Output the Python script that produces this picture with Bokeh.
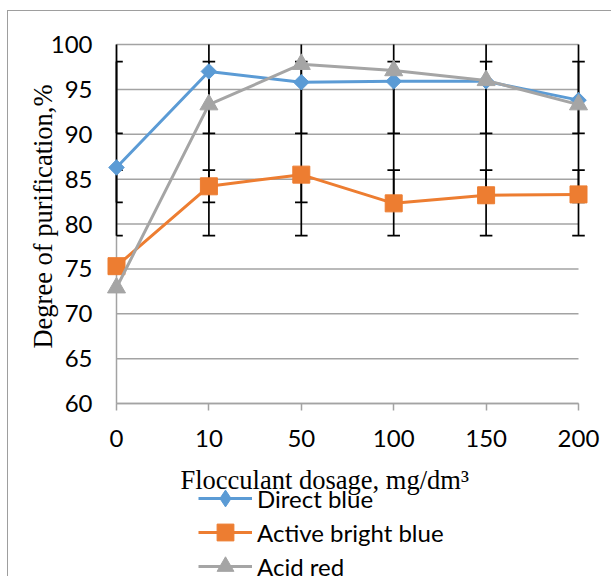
import numpy as np
from bokeh.plotting import figure
from bokeh.models import Range1d, FixedTicker, Legend, LegendItem, Label
from bokeh.embed import file_html
from bokeh.resources import INLINE

# ---- data ----
dosage_labels = ["0", "10", "50", "100", "150", "200"]
x_pos = [0, 1, 2, 3, 4, 5]
y_ticks = [60, 65, 70, 75, 80, 85, 90, 95, 100]

direct_blue = [86.3, 97.0, 95.8, 95.9, 95.9, 93.8]
active_bright_blue = [75.3, 84.2, 85.5, 82.3, 83.2, 83.3]
acid_red = [72.9, 93.3, 97.8, 97.1, 96.0, 93.3]

# error bar extents as drawn (same at every dosage, per series; acid red is cut at 100)
direct_blue_err = (90.1, 98.1)
active_bright_blue_err = (78.7, 86.0)
acid_red_err = (82.4, 100.0)

series_names = ["Direct blue", "Active bright blue", "Acid red"]
series_values = [direct_blue, active_bright_blue, acid_red]
series_errs = [direct_blue_err, active_bright_blue_err, acid_red_err]
series_colors = ["#5B9BD5", "#ED7D31", "#A5A5A5"]

GRID = "#a3a3a3"
SANS = "Lato"
SERIF = "Liberation Serif"

W, H = 604, 566
# plot area: x=0 at px 108, x=5 at px 570; y=100 at px 33, y=60 at px 392
px_x = (570 - 108) / 5.0
px_y = (392 - 33) / 40.0
x_range = Range1d(-108 / px_x, 5 + (W - 570) / px_x)
y_range = Range1d(60 - (H - 392) / px_y, 100 + 33 / px_y)

p = figure(width=W, height=H, output_backend="svg", toolbar_location=None,
           x_range=x_range, y_range=y_range,
           min_border_left=0, min_border_right=0, min_border_top=0,
           min_border_bottom=0,
           styles={"margin-left": "7px", "margin-top": "10px",
                   "border-left": "1px solid #9e9e9e",
                   "border-top": "1px solid #9e9e9e"})
p.outline_line_color = None
p.xgrid.visible = False
p.ygrid.visible = False

# horizontal gridlines between x=0 and x=5, and the value axis line at x=0
p.segment(x0=[x_pos[0]] * len(y_ticks), x1=[x_pos[-1]] * len(y_ticks),
          y0=y_ticks, y1=y_ticks, line_color=GRID, line_width=1.5)
p.segment(x0=[x_pos[0]], x1=[x_pos[0]], y0=[y_ticks[0]], y1=[y_ticks[-1]],
          line_color=GRID, line_width=1.5)

# error bars
cap = 0.068
xs = np.array(x_pos, dtype=float)
for lo, hi in series_errs:
    p.segment(x0=xs, x1=xs, y0=[lo] * len(xs), y1=[hi] * len(xs),
              line_color="black", line_width=1.7)
    for yv in (lo, hi):
        if yv >= y_ticks[-1]:
            continue
        p.segment(x0=np.maximum(xs - cap, 0), x1=xs + cap, y0=[yv] * len(xs),
                  y1=[yv] * len(xs), line_color="black", line_width=1.7)

items = []
for i, (name, vals, col) in enumerate(zip(series_names, series_values, series_colors)):
    ln = p.line(x_pos, vals, line_color=col, line_width=3)
    if i == 0:
        # diamond key for the legend (hidden under the rotated squares in the plot)
        key = p.scatter(x_pos, vals, marker="diamond", size=9,
                        fill_color=col, line_color=col)
        p.scatter(x_pos, vals, marker="square", size=11, angle=np.pi / 4,
                  fill_color=col, line_color=col)
    elif i == 1:
        key = p.scatter(x_pos, vals, marker="square", size=17,
                        fill_color=col, line_color=col)
    else:
        key = p.scatter(x_pos, vals, marker="triangle", size=18,
                        fill_color=col, line_color=col)
    items.append(LegendItem(label=name, renderers=[ln, key]))

# category axis fixed at y = 60
p.xaxis.fixed_location = y_ticks[0]
p.xaxis.ticker = FixedTicker(ticks=x_pos)
p.xaxis.major_label_overrides = {x: lab for x, lab in zip(x_pos, dosage_labels)}
p.xaxis.bounds = (x_pos[0], x_pos[-1])
p.xaxis.axis_line_color = GRID
p.xaxis.axis_line_width = 1.5
p.xaxis.major_tick_line_color = GRID
p.xaxis.major_tick_line_width = 1.5
p.xaxis.major_tick_out = 7
p.xaxis.major_tick_in = 0
p.xaxis.minor_tick_line_color = None
p.xaxis.major_label_standoff = 19
p.xaxis.major_label_text_font = SANS
p.xaxis.major_label_text_font_size = "24px"
p.xaxis.major_label_text_color = "black"

# value axis fixed at x = 0
p.yaxis.fixed_location = x_pos[0]
p.yaxis.ticker = FixedTicker(ticks=y_ticks)
p.yaxis.bounds = (y_ticks[0], y_ticks[-1])
p.yaxis.axis_line_color = None
p.yaxis.major_tick_line_color = None
p.yaxis.minor_tick_line_color = None
p.yaxis.major_tick_out = 0
p.yaxis.major_tick_in = 0
p.yaxis.major_label_standoff = 24
p.yaxis.major_label_text_font = SANS
p.yaxis.major_label_text_font_size = "24px"
p.yaxis.major_label_text_color = "black"

# axis titles
p.add_layout(Label(x=34, y=H - 205, x_units="screen", y_units="screen",
                   text="Degree of purification,%", angle=np.pi / 2,
                   text_font=SERIF, text_font_size="26.5px", text_color="black",
                   text_align="center", text_baseline="middle"))
p.add_layout(Label(x=172, y=H - 468, x_units="screen", y_units="screen",
                   text="Flocculant dosage, mg/dm\u00b3",
                   text_font=SERIF, text_font_size="26.5px", text_color="black",
                   text_align="left", text_baseline="alphabetic"))

# one single-row legend per series (rows 34 px apart, tall key boxes)
for i, item in enumerate(items):
    lg = Legend(items=[item], location=(190, 58 - 34 * i), orientation="vertical",
                label_text_font=SANS, label_text_font_size="24px",
                label_text_color="black", glyph_width=54, glyph_height=42,
                label_height=34, spacing=0, label_standoff=5, padding=0,
                margin=0, border_line_color=None, background_fill_alpha=0)
    p.add_layout(lg)

open("out.html", "w").write(file_html(p, INLINE))
